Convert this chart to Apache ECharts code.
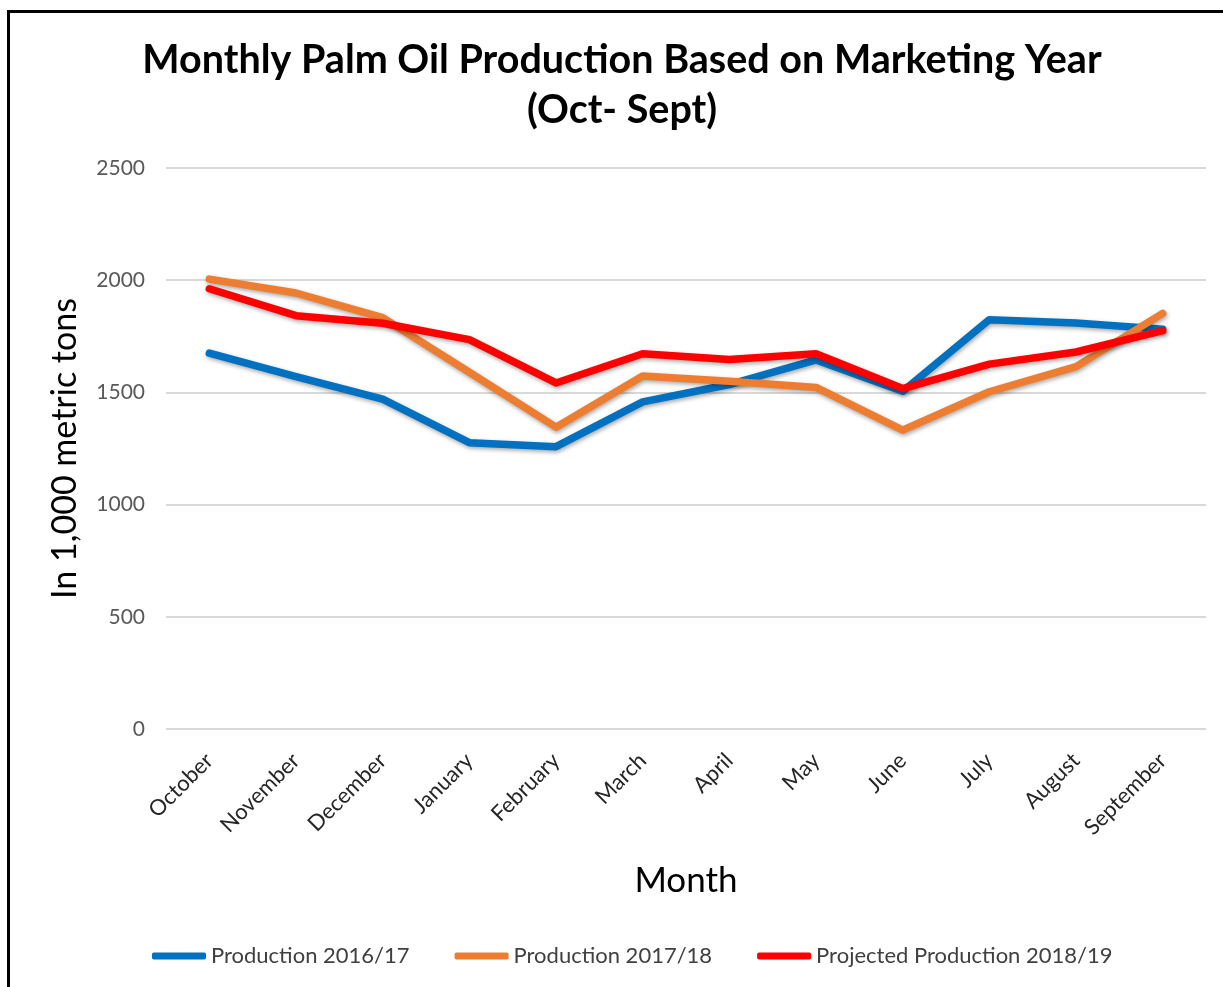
<!DOCTYPE html>
<html>
<head>
<meta charset="utf-8">
<script src="https://cdn.jsdelivr.net/npm/echarts@6/dist/echarts.min.js"></script>
<style>
  html, body { margin: 0; padding: 0; background: #fff; }
  #frame {
    position: absolute; left: 7px; top: 10px; width: 1230px; height: 990px;
    border-left: 3px solid #000; border-top: 3px solid #000;
  }
  #mychart { position: absolute; left: 0; top: 0; width: 1223px; height: 987px; }
</style>
</head>
<body>
<div id="frame"></div>
<div id="mychart"></div>
<script>
  var months = ['October', 'November', 'December', 'January', 'February', 'March',
    'April', 'May', 'June', 'July', 'August', 'September']
  var prod1617 = [1675, 1570, 1470, 1276, 1258, 1458, 1535, 1645, 1505, 1824, 1809, 1782]
  var prod1718 = [2005, 1943, 1833, 1590, 1345, 1573, 1550, 1522, 1332, 1503, 1615, 1852]
  var proj1819 = [1962, 1842, 1808, 1735, 1542, 1672, 1647, 1672, 1517, 1626, 1680, 1775]
  var yTicks = [0, 500, 1000, 1500, 2000, 2500]

  var fontName = 'Lato'
  var shadow = { shadowColor: 'rgba(0,0,0,0.35)', shadowBlur: 4, shadowOffsetX: 1, shadowOffsetY: 2 }

  function makeSeries(name, color, data) {
    return {
      name: name,
      type: 'line',
      data: data,
      showSymbol: false,
      symbol: 'none',
      color: color,
      lineStyle: Object.assign({ width: 7.5, color: color, cap: 'round', join: 'round' }, shadow)
    }
  }

  var chart = echarts.init(document.getElementById('mychart'))
  chart.setOption({
    animation: false,
    textStyle: { fontFamily: fontName },
    graphic: [
      {
        type: 'text', x: 622, y: 35,
        style: {
          text: 'Monthly Palm Oil Production Based on Marketing Year\n(Oct- Sept)',
          font: 'bold 39.5px ' + fontName, fill: '#000', align: 'center', lineHeight: 50
        }
      }
    ],
    grid: { left: 166, right: 17, top: 168, bottom: 258 },
    legend: {
      bottom: 15,
      left: 147,
      itemWidth: 54,
      itemHeight: 7,
      itemGap: 45,
      icon: 'roundRect',
      textStyle: { fontSize: 22, color: '#404040', fontFamily: fontName },
      data: ['Production 2016/17', 'Production 2017/18', 'Projected Production 2018/19']
    },
    xAxis: {
      type: 'category',
      data: months,
      name: 'Month',
      nameLocation: 'middle',
      nameGap: 134,
      nameTextStyle: { fontSize: 35, color: '#000', fontFamily: fontName },
      axisLine: { show: false },
      axisTick: { show: false },
      axisLabel: { rotate: 45, fontSize: 22, color: '#262626', margin: 28, interval: 0 }
    },
    yAxis: {
      type: 'value',
      min: 0,
      max: 2500,
      interval: 500,
      name: 'In 1,000 metric tons',
      nameLocation: 'middle',
      nameGap: 84,
      nameTextStyle: { fontSize: 34, color: '#000', fontFamily: fontName },
      axisLine: { show: false },
      axisTick: { show: false },
      splitLine: { lineStyle: { color: '#d9d9d9', width: 2 } },
      axisLabel: {
        fontSize: 21, color: '#595959', margin: 21,
        formatter: function (v) { return yTicks.indexOf(v) >= 0 ? String(v) : '' }
      }
    },
    series: [
      makeSeries('Production 2016/17', '#0070C0', prod1617),
      makeSeries('Production 2017/18', '#ED7D31', prod1718),
      makeSeries('Projected Production 2018/19', '#FF0000', proj1819)
    ]
  })
</script>
</body>
</html>
